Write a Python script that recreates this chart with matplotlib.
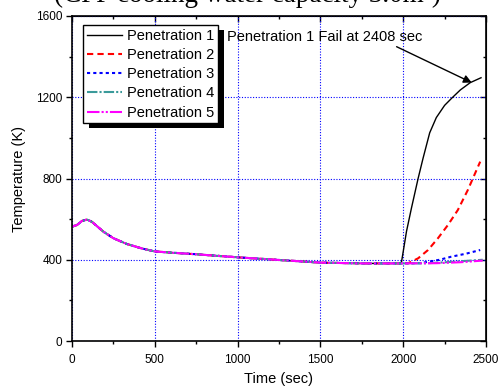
import matplotlib.pyplot as plt
from matplotlib.patches import Rectangle
from matplotlib.ticker import MultipleLocator
import numpy as np

plt.rcParams['font.family'] = ['Liberation Sans', 'DejaVu Sans']

# common transient (all penetrations coincide up to ~2000 s)
time_common = [0, 30, 60, 90, 120, 190, 250, 330, 420, 500, 600, 750,
               1000, 1250, 1500, 1750, 1980]
temp_common = [563, 571, 591, 598, 587, 538, 506, 478, 456, 441, 435, 427,
               412, 399, 386, 382, 382]

# late-phase heat-up of each penetration
time_p1 = [1990, 2020, 2050, 2090, 2120, 2160, 2200, 2250, 2295, 2345,
           2405, 2470]
temp_p1 = [390, 540, 655, 800, 900, 1025, 1100, 1160, 1197, 1236,
           1272, 1296]
time_p2 = [2030, 2090, 2150, 2210, 2270, 2330, 2390, 2465]
temp_p2 = [383, 407, 448, 506, 571, 645, 743, 883]
time_p3 = [2100, 2150, 2220, 2290, 2380, 2465]
temp_p3 = [383, 390, 400, 415, 430, 448]
time_p4 = [2150, 2300, 2480]
temp_p4 = [383, 390, 400]
time_p5 = [2200, 2350, 2480]
temp_p5 = [383, 388, 396]

labels = ['Penetration 1', 'Penetration 2', 'Penetration 3',
          'Penetration 4', 'Penetration 5']

fail_time = 2408

fig = plt.figure(figsize=(5, 3.9), dpi=100)
ax = fig.add_axes([0.144, 0.1256, 0.828, 0.8334])

series = [(time_p1, temp_p1), (time_p2, temp_p2), (time_p3, temp_p3),
          (time_p4, temp_p4), (time_p5, temp_p5)]
styles = [
    dict(color='black', lw=1.0, ls='-'),
    dict(color='red', lw=1.5, ls=(0, (3, 2))),
    dict(color='blue', lw=1.5, ls=(0, (1.5, 1.5))),
    dict(color='#3a9a9a', lw=1.5, ls=(0, (5, 1, 1, 1))),
    dict(color='magenta', lw=1.5, ls=(0, (6, 1, 1, 1, 1, 1))),
]
for (t, T), st, lab in zip(series, styles, labels):
    x = np.concatenate([time_common, t])
    y = np.concatenate([temp_common, T])
    ax.plot(x, y, label=lab, **st)

ax.set_xlim(0, 2500)
ax.set_ylim(0, 1600)
ax.xaxis.set_major_locator(MultipleLocator(500))
ax.xaxis.set_minor_locator(MultipleLocator(250))
ax.yaxis.set_major_locator(MultipleLocator(400))
ax.yaxis.set_minor_locator(MultipleLocator(200))
ax.grid(which='major', color='blue', ls=(0, (1, 1.5)), lw=0.8)

ax.tick_params(which='major', direction='out', length=4, width=1,
               labelsize=8.5, pad=3)
ax.tick_params(axis='x', which='major', pad=5)
ax.tick_params(which='minor', direction='out', length=2.5, width=1)
for s in ax.spines.values():
    s.set_linewidth(1.2)

# inward ticks on top and right
top = ax.secondary_xaxis('top')
top.xaxis.set_major_locator(MultipleLocator(500))
top.xaxis.set_minor_locator(MultipleLocator(250))
top.tick_params(which='both', direction='in', labeltop=False, width=1)
top.tick_params(which='major', length=4)
top.tick_params(which='minor', length=2.5)
right = ax.secondary_yaxis('right')
right.yaxis.set_major_locator(MultipleLocator(400))
right.yaxis.set_minor_locator(MultipleLocator(200))
right.tick_params(which='both', direction='in', labelright=False, width=1)
right.tick_params(which='major', length=4)
right.tick_params(which='minor', length=2.5)

ax.set_xlabel('Time (sec)', fontsize=10.5, labelpad=5)
ax.set_ylabel('Temperature (K)', fontsize=10.5, labelpad=7)

ax.annotate('Penetration 1 Fail at %d sec' % fail_time,
            xy=(2414, 1272), xytext=(934, 1497),
            fontsize=10.5, va='center', ha='left',
            arrowprops=dict(arrowstyle='-|>', color='black', lw=1,
                            mutation_scale=12, shrinkA=0, shrinkB=0,
                            relpos=(0.84, 0.0)))

leg = ax.legend(loc='upper left', bbox_to_anchor=(0.027, 0.972),
                borderaxespad=0, fontsize=10.5, frameon=True, fancybox=False,
                handlelength=2.4, handletextpad=0.35, labelspacing=0.36,
                borderpad=0.25)
leg.get_frame().set_edgecolor('black')
leg.get_frame().set_linewidth(1.0)
leg.get_frame().set_alpha(1)

fig.text(0.494, 0.994, '(CPP cooling water capacity 3.0m\u00b3)',
         family=['Liberation Serif', 'DejaVu Serif'], fontsize=19.5,
         ha='center', va='baseline')

# black drop shadow behind the legend
fig.canvas.draw()
bb = leg.get_window_extent().transformed(ax.transAxes.inverted())
off_x, off_y = 6 / 414, 5 / 325
ax.add_patch(Rectangle((bb.x0 + off_x, bb.y0 - off_y), bb.width, bb.height,
                       transform=ax.transAxes, facecolor='black',
                       edgecolor='none', zorder=4.9))

fig.savefig('out.png', dpi=100)
